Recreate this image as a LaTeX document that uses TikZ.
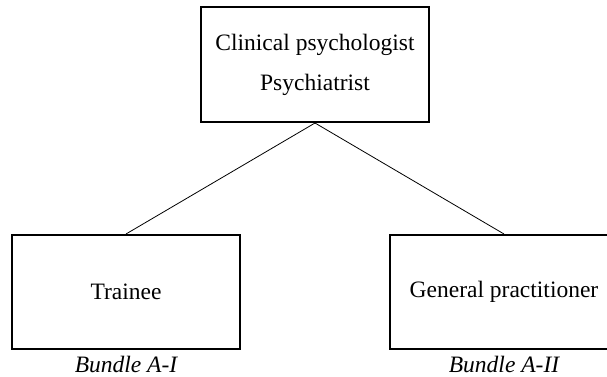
\documentclass[tikz,border=0pt]{standalone}
\usepackage{fontspec}
\setmainfont{Liberation Serif}
\begin{document}
\begin{tikzpicture}[x=1pt,y=-1pt,
  box/.style={draw, line width=2pt, minimum width=228pt, minimum height=114pt,
    inner sep=0pt, align=center, font=\fontsize{23.5}{40}\selectfont},
  lbl/.style={font=\fontsize{23.5}{28}\selectfont\itshape, inner sep=0pt, anchor=base},
  conn/.style={line width=0.8pt}]
\useasboundingbox (0,0) rectangle (607,377);
\clip (0,0) rectangle (607,377);
\node[box, minimum height=115pt] (top) at (315,64.5) {Clinical psychologist\\Psychiatrist};
\node[box] (left) at (126,292) {Trainee};
\node[box] (right) at (504,292) {General practitioner};
\draw[conn] (top.south) -- (left.north);
\draw[conn] (top.south) -- (right.north);
\node[lbl] (lblA) at (126,372) {Bundle A-I};
\node[lbl] (lblB) at (504,372) {Bundle A-II};
\end{tikzpicture}
\end{document}
